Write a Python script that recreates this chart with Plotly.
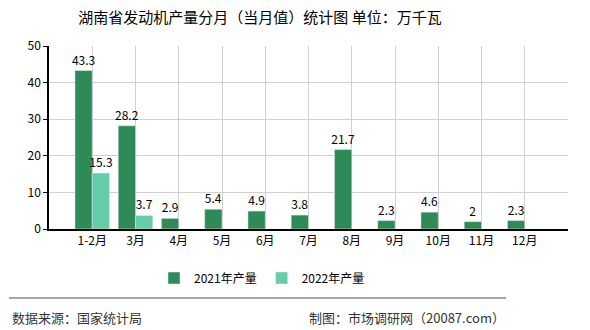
import plotly.graph_objects as go

months = ["1-2月", "3月", "4月", "5月", "6月", "7月", "8月", "9月", "10月", "11月", "12月"]
v2021 = [43.3, 28.2, 2.9, 5.4, 4.9, 3.8, 21.7, 2.3, 4.6, 2, 2.3]
v2022 = [15.3, 3.7, None, None, None, None, None, None, None, None, None]
yticks = [0, 10, 20, 30, 40, 50]

FONT = "Noto Sans CJK SC"
xpos = list(range(len(months)))

def fmt(v):
    return "" if v is None else ("%g" % v)

fig = go.Figure()
fig.add_trace(go.Bar(x=xpos, y=v2021, name="2021年产量", marker_color="#2e8b57",
                     text=[fmt(v) for v in v2021], textposition="outside", constraintext="none",
                     textfont=dict(size=12, color="#000"), cliponaxis=False))
fig.add_trace(go.Bar(x=xpos, y=v2022, name="2022年产量", marker_color="#66cdaa",
                     text=[fmt(v) for v in v2022], textposition="outside", constraintext="none",
                     textfont=dict(size=12, color="#000"), cliponaxis=False))

L, R, T, B = 49, 22, 46, 101
W, H = 590, 330
pw, ph = W - L - R, H - T - B

def px(x):
    return (x - L) / pw

def py(y):
    return (H - B - y) / ph

fig.update_layout(
    width=W, height=H,
    margin=dict(l=L, r=R, t=T, b=B),
    paper_bgcolor="white", plot_bgcolor="white",
    font=dict(family=FONT, size=12, color="#000"),
    barmode="group", bargap=0.2, bargroupgap=0,
    title=dict(text="湖南省发动机产量分月（当月值）统计图 单位：万千瓦",
               x=260 / W, xanchor="center", y=1 - 18 / H, yanchor="middle",
               font=dict(size=15, color="#000", family=FONT)),
    legend=dict(orientation="h", x=px(262), xanchor="center", y=py(278), yanchor="middle",
                font=dict(size=12, family=FONT), itemwidth=30, traceorder="normal"),
    xaxis=dict(range=[-1, 11], tickvals=list(range(len(months) + 1)), ticktext=months + [""],
               showgrid=True, gridcolor="#d0d0d0", gridwidth=1,
               showline=True, linecolor="#000", linewidth=1.5,
               ticks="", tickfont=dict(size=12, family=FONT), zeroline=False, fixedrange=True),
    yaxis=dict(range=[0, 50], tickvals=yticks, showgrid=True, gridcolor="#d0d0d0", gridwidth=1,
               showline=True, linecolor="#000", linewidth=1.5, ticks="outside", ticklen=4,
               tickcolor="#000", tickfont=dict(size=12, family=FONT), zeroline=False),
    showlegend=True,
)

fig.add_shape(type="line", xref="paper", yref="paper", x0=px(9), x1=px(506), y0=py(298), y1=py(298),
              line=dict(color="#888", width=1.5))
fig.add_annotation(text="数据来源：国家统计局", xref="paper", yref="paper", x=px(10), y=py(317),
                   xanchor="left", yanchor="middle", showarrow=False,
                   font=dict(size=13, color="#333", family=FONT))
fig.add_annotation(text="制图：市场调研网（20087.com）", xref="paper", yref="paper", x=px(507), y=py(317),
                   xanchor="right", yanchor="middle", showarrow=False,
                   font=dict(size=13, color="#333", family=FONT))

fig.write_html("out.html")
